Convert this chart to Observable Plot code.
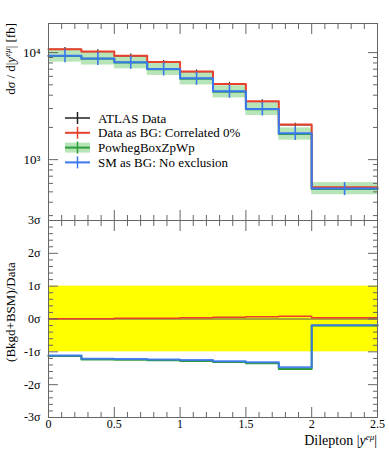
<!DOCTYPE html>
<html><head><meta charset="utf-8">
<script src="https://cdn.jsdelivr.net/npm/d3@7"></script>
<script src="https://cdn.jsdelivr.net/npm/@observablehq/plot@0.6"></script>
<style>
body{margin:0;background:#fff;font-family:"Liberation Serif",serif;}
#wrap{position:relative;width:389px;height:450px;overflow:hidden;}
#wrap > svg{position:absolute;left:0;}
</style></head><body><div id="wrap"></div>
<script>
// ---- data ----
const binLo = [0, 0.25, 0.5, 0.75, 1.0, 1.25, 1.5, 1.75, 2.0];
const binHi = [0.25, 0.5, 0.75, 1.0, 1.25, 1.5, 1.75, 2.0, 2.5];
const dataVals = [10700, 10200, 9320, 8130, 6620, 5080, 3490, 2110, 549];
const dataLo   = [10250, 9770, 8910, 7760, 6320, 4840, 3320, 2010, 524];
const dataHi   = [11150, 10630, 9690, 8440, 6880, 5260, 3620, 2190, 572];
const redVals  = [10720, 10220, 9340, 8150, 6650, 5100, 3510, 2125, 551];
const blueVals = [9320, 8790, 8120, 7040, 5750, 4350, 2980, 1760, 536];
const blueLo   = [8020, 7560, 6980, 6050, 4950, 3740, 2560, 1510, 461];
const blueHi   = [10620, 10020, 9260, 8030, 6560, 4960, 3400, 2010, 611];
const greenVals= [9280, 8740, 8070, 6990, 5700, 4310, 2950, 1740, 532];
const greenLo  = [8150, 7650, 7050, 6120, 4990, 3770, 2580, 1520, 470];
const greenHi  = [10550, 9950, 9180, 7960, 6480, 4900, 3350, 1980, 610];
const ratioRed   = [0.01, 0.01, 0.02, 0.02, 0.04, 0.05, 0.07, 0.08, 0.04];
const ratioBlue  = [-1.11, -1.21, -1.22, -1.23, -1.25, -1.29, -1.32, -1.47, -0.19];
const ratioGreen = [-1.13, -1.23, -1.24, -1.26, -1.28, -1.31, -1.35, -1.52, -0.20];
const sigmaBand = [-1, 1];
const xMajorTicks = [0, 0.5, 1, 1.5, 2, 2.5];
const xMinorTicks = [0.1,0.2,0.3,0.4,0.6,0.7,0.8,0.9,1.1,1.2,1.3,1.4,1.6,1.7,1.8,1.9,2.1,2.2,2.3,2.4];
const yMajorTicks = [1000, 10000];
const yMajorLabels = ["10³", "10⁴"];
const yMinorTicks = [300,400,500,600,700,800,900,2000,3000,4000,5000,6000,7000,8000,9000];
const rMajorTicks = [-3,-2,-1,0,1,2,3];
const rMajorLabels = ["-3σ","-2σ","-1σ","0σ","1σ","2σ","3σ"];
const rMinorTicks = d3.range(-30, 31, 2).filter(v => v % 10 !== 0).map(v => v / 10);
const xLabels = ["0", "0.5", "1", "1.5", "2", "2.5"];

const RED = "#e8412b", BLUE = "#3b78f0", GREEN = "#2f9e3a", BAND = "#4cbf4c", FRAME = "#666";
const FONT = "Liberation Serif";

const rows = binLo.map((lo, i) => ({
  lo, hi: binHi[i], mid: (lo + binHi[i]) / 2,
  data: dataVals[i], dLo: dataLo[i], dHi: dataHi[i],
  red: redVals[i], blue: blueVals[i], bLo: blueLo[i], bHi: blueHi[i],
  green: greenVals[i], gLo: greenLo[i], gHi: greenHi[i],
  rRed: ratioRed[i], rBlue: ratioBlue[i], rGreen: ratioGreen[i]
}));
const steps = key => rows.flatMap(r => [{x: r.lo, y: r[key]}, {x: r.hi, y: r[key]}]);
const blank = () => "";

function ticksX(major, minor) {
  return [
    Plot.axisX(major, {anchor: "bottom", tickSize: -10, tickFormat: blank, stroke: FRAME}),
    Plot.axisX(minor, {anchor: "bottom", tickSize: -5, tickFormat: blank, stroke: FRAME}),
    Plot.axisX(major, {anchor: "top", tickSize: -10, tickFormat: blank, stroke: FRAME}),
    Plot.axisX(minor, {anchor: "top", tickSize: -5, tickFormat: blank, stroke: FRAME})
  ];
}
function ticksY(major, minor) {
  return [
    Plot.axisY(major, {anchor: "left", tickSize: -10, tickFormat: blank, stroke: FRAME}),
    Plot.axisY(minor, {anchor: "left", tickSize: -5, tickFormat: blank, stroke: FRAME}),
    Plot.axisY(major, {anchor: "right", tickSize: -10, tickFormat: blank, stroke: FRAME}),
    Plot.axisY(minor, {anchor: "right", tickSize: -5, tickFormat: blank, stroke: FRAME})
  ];
}

const common = {
  width: 389, marginLeft: 48, marginRight: 12,
  style: {fontFamily: "'Liberation Serif', serif", fontSize: "12px", color: "#000", background: "transparent", overflow: "visible"}
};

const topPlot = Plot.plot({
  ...common, height: 220, marginTop: 23, marginBottom: 0,
  x: {domain: [0, 2.5], label: null},
  y: {type: "log", domain: [270, 18700], label: null},
  marks: [
    Plot.rect(rows, {x1: "lo", x2: "hi", y1: "gLo", y2: "gHi", fill: BAND, fillOpacity: 0.4}),
    Plot.line(steps("green"), {x: "x", y: "y", stroke: GREEN, strokeWidth: 2}),
    Plot.ruleY(rows, {y: "data", x1: "lo", x2: "hi", stroke: "#222", strokeWidth: 1.2}),
    Plot.ruleX(rows, {x: "mid", y1: "dLo", y2: "dHi", stroke: "#222", strokeWidth: 1.2}),
    Plot.line(steps("red"), {x: "x", y: "y", stroke: RED, strokeWidth: 2}),
    Plot.line(steps("blue"), {x: "x", y: "y", stroke: BLUE, strokeWidth: 2}),
    Plot.ruleX(rows, {x: "mid", y1: "bLo", y2: "bHi", stroke: BLUE, strokeWidth: 1.6}),
    ...ticksX(xMajorTicks, xMinorTicks),
    ...ticksY(yMajorTicks, yMinorTicks),
    Plot.text(yMajorTicks, {y: d => d, text: (d, i) => yMajorLabels[i], frameAnchor: "left", textAnchor: "end", dx: -8, fontSize: 13, fontFamily: FONT, fill: "#000"}),
    Plot.frame({stroke: FRAME})
  ]
});

const ratioPlot = Plot.plot({
  ...common, height: 230, marginTop: 0, marginBottom: 33,
  x: {domain: [0, 2.5], label: null},
  y: {domain: [-3, 3], label: null},
  marks: [
    Plot.rect([sigmaBand], {x1: () => 0, x2: () => 2.5, y1: d => d[0], y2: d => d[1], fill: "#ffff00"}),
    Plot.line(steps("rGreen"), {x: "x", y: "y", stroke: GREEN, strokeWidth: 2}),
    Plot.line(steps("rBlue"), {x: "x", y: "y", stroke: BLUE, strokeWidth: 2, strokeOpacity: 0.9}),
    Plot.ruleY([0], {stroke: "#555", strokeWidth: 1}),
    Plot.line(steps("rRed"), {x: "x", y: "y", stroke: RED, strokeWidth: 1.5}),
    ...ticksX(xMajorTicks, xMinorTicks),
    ...ticksY(rMajorTicks, rMinorTicks),
    Plot.text(rMajorTicks, {y: d => d, text: (d, i) => rMajorLabels[i], frameAnchor: "left", textAnchor: "end", dx: -8, fontSize: 12, fontFamily: FONT, fill: "#000"}),
    Plot.text(xMajorTicks, {x: d => d, text: (d, i) => xLabels[i], frameAnchor: "bottom", lineAnchor: "top", dy: 2, fontSize: 12, fontFamily: FONT, fill: "#000"}),
    Plot.frame({stroke: FRAME})
  ]
});

const wrap = document.getElementById("wrap");
topPlot.style.top = "0px";
ratioPlot.style.top = "220px";
wrap.appendChild(topPlot);
wrap.appendChild(ratioPlot);

// overlay: axis titles and legend
const ov = d3.select(wrap).append("svg")
  .attr("width", 389).attr("height", 450)
  .style("top", "0px").style("pointer-events", "none")
  .attr("font-family", FONT).attr("font-size", 13);

const yl = ov.append("text").attr("transform", "translate(15,23) rotate(-90)").attr("text-anchor", "end");
yl.append("tspan").text("d");
yl.append("tspan").attr("font-style", "italic").text("σ");
yl.append("tspan").text(" / d|");
yl.append("tspan").attr("font-style", "italic").text("y");
yl.append("tspan").attr("font-size", 9).attr("dy", -5).attr("font-style", "italic").text("eμ");
yl.append("tspan").attr("dy", 5).text("| [fb]");

ov.append("text").attr("transform", "translate(15,312) rotate(-90)").attr("text-anchor", "middle")
  .text("(Bkgd+BSM)/Data");

const xl = ov.append("text").attr("x", 377).attr("y", 445).attr("text-anchor", "end").attr("font-size", 14);
xl.append("tspan").text("Dilepton |");
xl.append("tspan").attr("font-style", "italic").text("y");
xl.append("tspan").attr("font-size", 9).attr("dy", -5).attr("font-style", "italic").text("eμ");
xl.append("tspan").attr("dy", 5).text("|");

const legendNames = ["ATLAS Data", "Data as BG: Correlated 0%", "PowhegBoxZpWp", "SM as BG: No exclusion"];
const legendColors = ["#222", RED, GREEN, BLUE];
legendNames.forEach((name, i) => {
  const cy = 118 + i * 14.8;
  const g = ov.append("g");
  if (i === 2) g.append("rect").attr("x", 65).attr("y", cy - 5).attr("width", 25).attr("height", 10).attr("fill", BAND).attr("fill-opacity", 0.4);
  g.append("line").attr("x1", 65).attr("x2", 90).attr("y1", cy).attr("y2", cy).attr("stroke", legendColors[i]).attr("stroke-width", i === 0 ? 1.5 : 2);
  g.append("line").attr("x1", 77.5).attr("x2", 77.5).attr("y1", cy - 6).attr("y2", cy + 6).attr("stroke", legendColors[i]).attr("stroke-width", 1.5);
  g.append("text").attr("x", 98).attr("y", cy + 4.5).text(name);
});
</script></body></html>
